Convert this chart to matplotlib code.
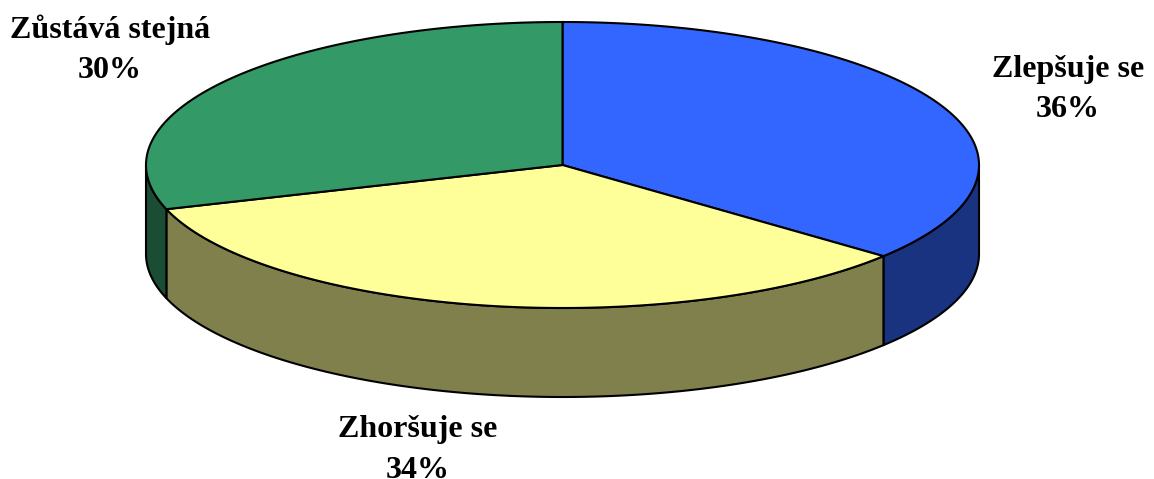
# 3D style pie chart, drawn as polygons because matplotlib has no 3D pie
import numpy as np
import matplotlib
matplotlib.use('Agg')
import matplotlib.pyplot as plt
from matplotlib.patches import Polygon

labels = ['Zlepšuje se', 'Zhoršuje se', 'Zůstává stejná']
values = [36, 34, 30]
top_colors = ['#3366FF', '#FFFF99', '#339966']
side_colors = ['#1A3380', '#80804D', '#1A4D33']
# the lower label sits right on the bottom edge in the reference too
label_pos = [(1068, 89), (418, 450), (110, 50)]

cx, cy = 562.5, 165
rx, ry = 416.5, 143
depth = 89


def ellipse(t, dy=0):
    # t runs clockwise from 12 o'clock
    return np.column_stack([cx + rx * np.sin(t), cy + dy - ry * np.cos(t)])


fig = plt.figure(figsize=(11.54, 4.79), dpi=100)
ax = fig.add_axes([0, 0, 1, 1])
ax.set_xlim(0, 1154)
ax.set_ylim(479, 0)
ax.axis('off')

edges = np.cumsum([0] + values) / sum(values) * 2 * np.pi

# Side walls, only the front half of the rim shows
for i in range(len(values)):
    a = max(edges[i], np.pi / 2)
    b = min(edges[i + 1], 3 * np.pi / 2)
    if b > a:
        t = np.linspace(a, b, 200)
        pts = np.vstack([ellipse(t), ellipse(t[::-1], depth)])
        ax.add_patch(Polygon(pts, closed=True, facecolor=side_colors[i],
                             edgecolor='black', linewidth=1.5, joinstyle='round'))

# Top face
for i in range(len(values)):
    t = np.linspace(edges[i], edges[i + 1], 300)
    pts = np.vstack([[cx, cy], ellipse(t)])
    ax.add_patch(Polygon(pts, closed=True, facecolor=top_colors[i],
                         edgecolor='black', linewidth=1.5, joinstyle='round'))

# Labels
for name, val, pos in zip(labels, values, label_pos):
    ax.text(pos[0], pos[1], f'{name}\n{val}%', ha='center', va='center',
            family='Liberation Serif', fontweight='bold', fontsize=23,
            linespacing=1.5, color='black')

fig.savefig('out.png', dpi=100)
